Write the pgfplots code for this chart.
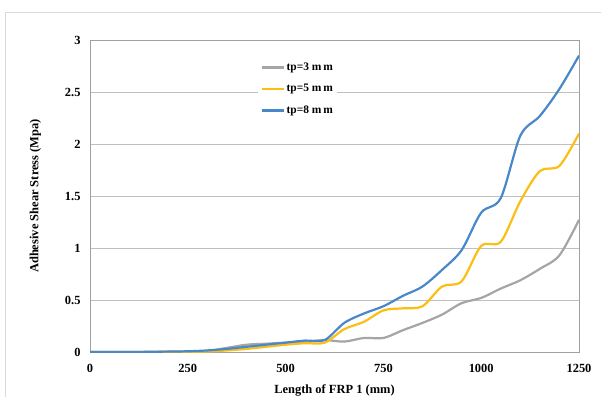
\documentclass[border=0pt]{standalone}
\usepackage{pgfplots}
\pgfplotsset{compat=1.18}
\usepackage{fontspec}
\setmainfont{Liberation Serif}
\definecolor{cgray}{RGB}{165,165,165}
\definecolor{cyel}{RGB}{250,190,20}
\definecolor{cblue}{RGB}{72,136,200}
\definecolor{grid}{RGB}{217,217,217}
\definecolor{frame}{RGB}{160,160,160}
\pgfplotstableread{
x g y b
0 0 0 0
50 0 0 0
100 0 0 0
150 0.001 0.001 0.002
200 0.002 0.002 0.004
250 0.003 0.003 0.007
300 0.01 0.005 0.015
350 0.04 0.015 0.03
400 0.07 0.03 0.05
450 0.08 0.05 0.07
500 0.09 0.07 0.09
550 0.10 0.085 0.11
600 0.115 0.09 0.115
650 0.10 0.22 0.28
700 0.135 0.29 0.37
750 0.135 0.40 0.44
800 0.21 0.42 0.54
850 0.28 0.44 0.63
900 0.36 0.63 0.79
950 0.47 0.68 0.98
1000 0.52 1.02 1.34
1050 0.61 1.06 1.48
1100 0.69 1.45 2.08
1150 0.80 1.74 2.27
1200 0.93 1.79 2.53
1250 1.27 2.10 2.85
}\data
\begin{document}
\begin{tikzpicture}[x=1bp,y=1bp]
\useasboundingbox (0,0) rectangle (601,397);
\draw[grid, line width=0.8bp] (5,0) -- (5,385) -- (601,385);
\begin{axis}[
  at={(90bp,45bp)}, anchor=south west,
  scale only axis, width=489bp, height=312bp,
  xmin=0, xmax=1250, ymin=0, ymax=3,
  xtick={0,250,...,1250}, ytick={0,0.5,...,3},
  yticklabels={0,0.5,1,1.5,2,2.5,3},
  xmajorgrids=false, ymajorgrids=true,
  tick style={draw=none},
  axis line style={frame, line width=0.9bp},
  grid style={grid, line width=0.8bp},
  /pgf/number format/assume math mode=true,
  /pgf/number format/1000 sep={},
  ticklabel style={font=\bfseries\fontsize{12.5}{14}\selectfont},
  yticklabel style={xshift=-6bp},
  xticklabel style={yshift=-9bp},
  xlabel={Length of FRP 1 (mm)},
  ylabel={Adhesive Shear Stress (Mpa)},
  label style={font=\bfseries\fontsize{12.5}{14}\selectfont},
  xlabel style={yshift=-5bp},
  ylabel style={yshift=17bp},
  legend style={at={(0.344,0.94)}, anchor=north west, draw=none, fill=white,
    font=\bfseries\fontsize{11.5}{13}\selectfont, row sep=8.5bp, inner sep=2bp},
  legend cell align=left,
  legend image code/.code={\draw[#1, line width=2.2bp] (0,0) -- (22bp,0);},
  every axis plot/.append style={line width=2.2bp, smooth, tension=0.5},
]
\addplot[cgray] table[x=x,y=g]{\data};
\addplot[cyel] table[x=x,y=y]{\data};
\addplot[cblue] table[x=x,y=b]{\data};
\legend{tp=3 m\,m, tp=5 m\,m, tp=8 m\,m}
\end{axis}
\end{tikzpicture}
\end{document}
